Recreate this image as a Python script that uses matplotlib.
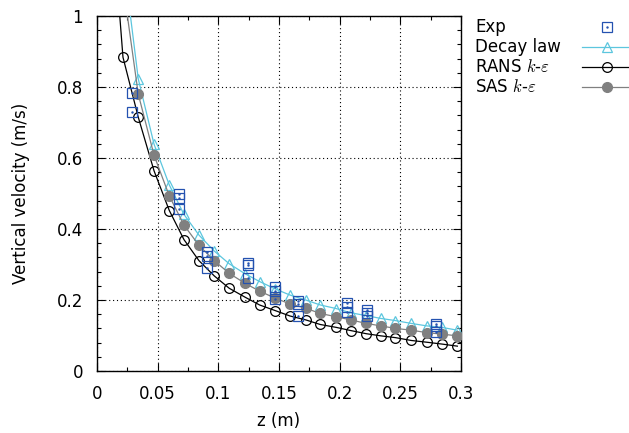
import numpy as np
import matplotlib
matplotlib.use("Agg")
import matplotlib.pyplot as plt
from matplotlib.lines import Line2D
from matplotlib.ticker import MultipleLocator, FormatStrFormatter

plt.rcParams['font.family'] = 'DejaVu Sans'
plt.rcParams['mathtext.fontset'] = 'cm'

# Experimental data (several repeats per station)
exp_z = [0.029, 0.029,
         0.0678, 0.0678, 0.0678,
         0.0909, 0.0909, 0.0909,
         0.1247, 0.1247, 0.1247,
         0.1467, 0.1467, 0.1467,
         0.1659, 0.1659, 0.1659,
         0.2058, 0.2058, 0.2058,
         0.2223, 0.2223, 0.2223,
         0.279, 0.279, 0.279]
exp_v = [0.782, 0.729,
         0.500, 0.487, 0.456,
         0.336, 0.324, 0.291,
         0.303, 0.298, 0.261,
         0.238, 0.226, 0.203,
         0.198, 0.189, 0.155,
         0.192, 0.179, 0.165,
         0.172, 0.163, 0.155,
         0.132, 0.128, 0.109]

# Simulation / model stations
z_sim = [0.009, 0.0214, 0.034, 0.047, 0.0596, 0.0717, 0.084, 0.0966, 0.109,
         0.122, 0.134, 0.147, 0.159, 0.172, 0.184, 0.197, 0.209, 0.222,
         0.234, 0.246, 0.259, 0.272, 0.284, 0.297]

decay_v = [None, 1.17, 0.823, 0.639, 0.524, 0.441, 0.383, 0.338, 0.302,
           0.274, 0.252, 0.231, 0.214, 0.200, 0.186, 0.176, 0.164, 0.156,
           0.148, 0.142, 0.134, 0.127, 0.123, 0.115]

rans_v = [1.43, 0.884, 0.715, 0.564, 0.452, 0.370, 0.311, 0.268, 0.233,
          0.208, 0.186, 0.170, 0.155, 0.144, 0.131, 0.123, 0.114, 0.105,
          0.099, 0.094, 0.086, 0.081, 0.076, 0.070]

sas_v = [None, 1.09, 0.780, 0.608, 0.493, 0.411, 0.354, 0.311, 0.275,
         0.247, 0.225, 0.205, 0.189, 0.177, 0.162, 0.153, 0.144, 0.134,
         0.127, 0.120, 0.115, 0.108, 0.104, 0.099]

c_exp = '#2452b0'
c_decay = '#5cc6de'
c_rans = 'black'
c_sas = '#808080'
fs = 12


def pairs(z, v):
    zz = [a for a, b in zip(z, v) if b is not None]
    vv = [b for b in v if b is not None]
    return np.array(zz), np.array(vv)


fig = plt.figure(figsize=(6.29, 4.33), dpi=100)
ax = fig.add_axes([97 / 629, 1 - 371 / 433, 364 / 629, 355 / 433])

zd, vd = pairs(z_sim, decay_v)
ax.plot(zd, vd, '-^', color=c_decay, lw=0.9, ms=6.5, mfc='none', mew=0.9, zorder=3)
zr, vr = pairs(z_sim, rans_v)
ax.plot(zr, vr, '-o', color=c_rans, lw=0.9, ms=7, mfc='none', mew=0.9, zorder=4)
zs, vs = pairs(z_sim, sas_v)
ax.plot(zs, vs, '-o', color=c_sas, lw=0.9, ms=7, mfc=c_sas, mec=c_sas, zorder=4)
ax.plot(exp_z, exp_v, 's', color=c_exp, ms=6.5, mfc='none', mew=0.9, zorder=5)
ax.plot(exp_z, exp_v, '.', color=c_exp, ms=1.5, zorder=5)

ax.set_xlim(0, 0.3)
ax.set_ylim(0, 1)
ax.xaxis.set_major_locator(MultipleLocator(0.05))
ax.xaxis.set_minor_locator(MultipleLocator(0.025))
ax.yaxis.set_major_locator(MultipleLocator(0.2))
ax.yaxis.set_minor_locator(MultipleLocator(0.04))
ax.xaxis.set_major_formatter(FormatStrFormatter('%g'))
ax.yaxis.set_major_formatter(FormatStrFormatter('%g'))
ax.tick_params(which='both', direction='in', top=True, right=True, labelsize=fs, width=0.8)
ax.tick_params(which='major', length=6, pad=10)
ax.tick_params(which='minor', length=3)
ax.grid(True, which='major', color='black', linestyle=(0, (1, 2.5)), linewidth=0.8)
for s in ax.spines.values():
    s.set_linewidth(1.0)

ax.set_xlabel('z (m)', fontsize=fs)
ax.set_ylabel('Vertical velocity (m/s)', fontsize=fs)
ax.xaxis.set_label_coords(0.5, -0.116)
ax.yaxis.set_label_coords(-0.184, 0.5)

# legend drawn by hand (labels left, samples right, gnuplot style)
labels = ['Exp', 'Decay law', r'RANS $k$-$\varepsilon$', r'SAS $k$-$\varepsilon$']
rows_y = [27, 47, 67, 87]
x_text = 475 / 629
x0, x1, xm = 582 / 629, 628 / 629, 607 / 629
styles = [
    dict(ls='none', marker='s', color=c_exp, ms=6.5, mfc='none', mew=0.9),
    dict(ls='-', marker='^', color=c_decay, lw=0.9, ms=6.5, mfc='none', mew=0.9),
    dict(ls='-', marker='o', color=c_rans, lw=0.9, ms=7, mfc='none', mew=0.9),
    dict(ls='-', marker='o', color=c_sas, lw=0.9, ms=7, mfc=c_sas, mec=c_sas),
]
for lab, ry, st in zip(labels, rows_y, styles):
    y = 1 - ry / 433
    fig.text(x_text, y, lab, fontsize=fs, ha='left', va='center')
    fig.add_artist(Line2D([x0, x1], [y, y], transform=fig.transFigure,
                          linestyle=st.pop('ls'), **{k: v for k, v in st.items() if k != 'marker'}))
    fig.add_artist(Line2D([xm], [y], transform=fig.transFigure, linestyle='none',
                          marker=st['marker'], color=st['color'], ms=st['ms'],
                          mfc=st['mfc'], mew=st.get('mew', 1.0),
                          mec=st.get('mec', st['color'])))
fig.add_artist(Line2D([xm], [1 - rows_y[0] / 433], transform=fig.transFigure,
                      linestyle='none', marker='.', color=c_exp, ms=1.5))

fig.savefig('out.png', dpi=100)
